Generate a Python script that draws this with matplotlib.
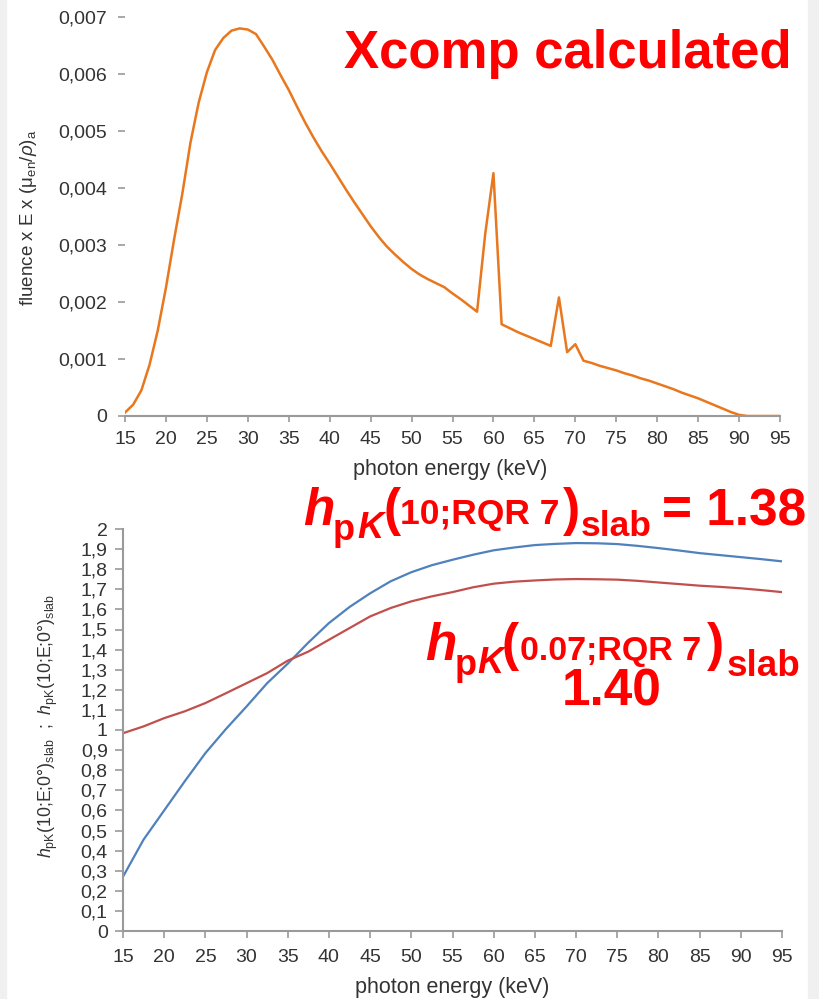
import matplotlib
matplotlib.use('Agg')
import matplotlib.pyplot as plt
from matplotlib.patches import Rectangle

plt.rcParams['font.family'] = ['Liberation Sans', 'DejaVu Sans']
plt.rcParams['mathtext.fontset'] = 'custom'
plt.rcParams['mathtext.rm'] = 'Liberation Sans'
plt.rcParams['mathtext.it'] = 'Liberation Sans:italic'
plt.rcParams['mathtext.bf'] = 'Liberation Sans:bold'

# top panel: Xcomp spectrum, 1 keV steps
energy_top = list(range(15, 96))
fluence = [0.00006, 0.0002, 0.00045, 0.0009, 0.0015, 0.00225, 0.0031, 0.0039, 0.0048, 0.0055,
           0.00603, 0.00642, 0.00663, 0.00676, 0.0068, 0.00678, 0.0067, 0.00648, 0.00625, 0.00598,
           0.00572, 0.00543, 0.00515, 0.00489, 0.00465, 0.00443, 0.0042, 0.00397, 0.00375, 0.00354,
           0.00333, 0.00314, 0.00297, 0.00283, 0.0027, 0.00258, 0.00248, 0.0024, 0.00233, 0.00226,
           0.00215, 0.00205, 0.00194, 0.00183, 0.0032, 0.00426, 0.00161, 0.00154, 0.00147, 0.00141,
           0.00135, 0.00129, 0.00123, 0.00208, 0.00112, 0.00126, 0.00097, 0.00093, 0.00088, 0.00084,
           0.0008, 0.00075, 0.00071, 0.00066, 0.00062, 0.00057, 0.00052, 0.00047, 0.00041, 0.00036,
           0.00031, 0.00025, 0.00019, 0.00013, 0.00007, 0.00002, 0.0, 0.0, 0.0, 0.0, 0.0]

# bottom panel: conversion coefficients, 2.5 keV steps
energy_bot = [15 + 2.5 * i for i in range(33)]
hpk_10 = [0.27, 0.455, 0.60, 0.745, 0.885, 1.005, 1.117, 1.233, 1.33, 1.435, 1.532, 1.612, 1.68,
          1.74, 1.785, 1.82, 1.847, 1.872, 1.894, 1.908, 1.92, 1.926, 1.93, 1.929, 1.925, 1.916,
          1.905, 1.893, 1.88, 1.87, 1.86, 1.85, 1.839]
hpk_007 = [0.984, 1.018, 1.059, 1.093, 1.134, 1.183, 1.233, 1.283, 1.345, 1.39, 1.449, 1.507, 1.565,
           1.607, 1.64, 1.665, 1.686, 1.71, 1.728, 1.738, 1.744, 1.749, 1.751, 1.75, 1.748, 1.742,
           1.734, 1.726, 1.718, 1.712, 1.705, 1.696, 1.686]

xticks = list(range(15, 96, 5))
yticks_top = [i * 0.001 for i in range(8)]
ylabels_top = ['0', '0,001', '0,002', '0,003', '0,004', '0,005', '0,006', '0,007']
yticks_bot = [i / 10 for i in range(21)]
ylabels_bot = ['0', '0,1', '0,2', '0,3', '0,4', '0,5', '0,6', '0,7', '0,8', '0,9', '1',
               '1,1', '1,2', '1,3', '1,4', '1,5', '1,6', '1,7', '1,8', '1,9', '2']

W, H = 819, 999
fig = plt.figure(figsize=(W / 100, H / 100), dpi=100)

# light grey frame strips on both sides
fig.patches.append(Rectangle((0, 0), 6 / W, 1, transform=fig.transFigure, color='#f0f0f0', zorder=0))
fig.patches.append(Rectangle((808 / W, 0), 11 / W, 1, transform=fig.transFigure, color='#f0f0f0', zorder=0))

axis_grey = '#9a9a9a'
txt_grey = '#333333'


def px_axes(l, t, r, b):
    return fig.add_axes([l / W, 1 - b / H, (r - l) / W, (b - t) / H])


# ---- top graph
ax1 = px_axes(125, 17, 780, 416)
ax1.plot(energy_top, fluence, color='#e8771e', lw=1.8)
ax1.set_xlim(15, 95)
ax1.set_ylim(0, 0.007)
ax1.set_xticks(xticks)
ax1.set_yticks(yticks_top)
ax1.set_yticklabels(ylabels_top)
for s in ['top', 'right', 'left']:
    ax1.spines[s].set_visible(False)
ax1.spines['bottom'].set_color(axis_grey)
ax1.spines['bottom'].set_linewidth(1.5)
ax1.tick_params(axis='x', colors=axis_grey, labelcolor=txt_grey, labelsize=14, length=4, width=1.2, pad=7)
ax1.tick_params(axis='y', colors=axis_grey, labelcolor=txt_grey, labelsize=14, length=5, width=1.2, pad=8)

fig.text(29 / W, 1 - 218 / H, r'fluence x E x ($\mathregular{\mu_{en}}$/$\rho$)$\mathregular{_a}$',
         rotation=90, ha='center', va='center', fontsize=13.5, color=txt_grey)
fig.text(450 / W, 1 - 469 / H, 'photon energy (keV)', ha='center', va='center', fontsize=15.5, color=txt_grey)

# ---- bottom graph
ax2 = px_axes(123, 529, 782, 931)
ax2.plot(energy_bot, hpk_10, color='#4f81bd', lw=1.6)
ax2.plot(energy_bot, hpk_007, color='#c0504d', lw=1.6)
ax2.set_xlim(15, 95)
ax2.set_ylim(0, 2)
ax2.set_xticks(xticks)
ax2.set_yticks(yticks_bot)
ax2.set_yticklabels(ylabels_bot)
for s in ['top', 'right']:
    ax2.spines[s].set_visible(False)
for s in ['left', 'bottom']:
    ax2.spines[s].set_color(axis_grey)
    ax2.spines[s].set_linewidth(1.5)
ax2.tick_params(axis='x', colors=axis_grey, labelcolor=txt_grey, labelsize=14, length=5, width=1.2, pad=8)
ax2.tick_params(axis='y', colors=axis_grey, labelcolor=txt_grey, labelsize=14, length=6, width=1.2, pad=5)

fig.text(48 / W, 1 - 726 / H,
         r'$h_{\mathregular{pK}}$(10;E;0°)$_{\mathregular{slab}}$  ;  $h_{\mathregular{pK}}$(10;E;0°)$_{\mathregular{slab}}$',
         rotation=90, ha='center', va='center', fontsize=12.8, color=txt_grey)
fig.text(452 / W, 1 - 987 / H, 'photon energy (keV)', ha='center', va='center', fontsize=15.5, color=txt_grey)


# ---- red annotations, built piece by piece
def red(x, base, s, size, style='normal', ha='left'):
    fig.text(x / W, 1 - base / H, s, fontsize=size, fontweight='bold', fontstyle=style,
             color='#ff0000', ha=ha, va='baseline')


red(344, 68, 'Xcomp calculated', 38)

big, small = 37, 25.5
red(303, 525, 'h', big, 'italic')
red(333, 540, 'p', 26)
red(357, 538, 'K', 26, 'italic')
red(383, 525, '(', big)
red(400, 524, '10;RQR 7', small)
red(563, 525, ')', big)
red(581, 536, 'slab', small)
red(662, 525, '= 1.38', big)

red(425, 660, 'h', big, 'italic')
red(455, 675, 'p', 26)
red(477, 673, 'K', 26, 'italic')
red(501, 660, '(', big)
red(520, 660, '0.07;RQR 7', 24.5)
red(707, 660, ')', big)
red(727, 676, 'slab', 26.5)
red(612, 706, '1.40', big, ha='center')

fig.savefig('out.png', dpi=100)
